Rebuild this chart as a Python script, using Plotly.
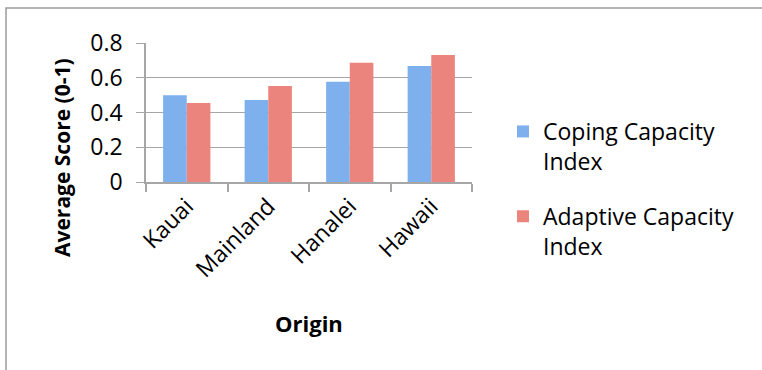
import plotly.graph_objects as go

categories = ["Kauai", "Mainland", "Hanalei", "Hawaii"]
coping = [0.50, 0.472, 0.577, 0.668]
adaptive = [0.455, 0.553, 0.687, 0.731]
series_names = ["Coping Capacity<br>Index", "Adaptive Capacity<br>Index"]
y_ticks = [0, 0.2, 0.4, 0.6, 0.8]
y_ticktext = ["0", "0.2", "0.4", "0.6", "0.8"]
x_title = "Origin"
y_title = "Average Score (0-1)"

W, H = 762, 370
ml, mr, mt, mb = 146, 290, 43, 188
pw, ph = W - ml - mr, H - mt - mb


def px_x(p):
    return (p - ml) / pw


def px_y(p):
    return (mt + ph - p) / ph


FONT = "Open Sans"
grid = "#a6a6a6"

fig = go.Figure()
fig.add_trace(go.Bar(x=categories, y=coping, name=series_names[0],
                     legendgroup="coping",
                     marker=dict(color="#7db0ec", line=dict(width=0))))
fig.add_trace(go.Bar(x=categories, y=adaptive, name=series_names[1],
                     legendgroup="adaptive",
                     marker=dict(color="#ec847e", line=dict(width=0))))

# outer chart border
fig.add_shape(type="rect", xref="paper", yref="paper",
              x0=px_x(6), x1=px_x(W + 10), y0=px_y(H + 10), y1=px_y(8),
              line=dict(color="#9a9a9a", width=1.5), layer="below")

fig.add_annotation(text="<b>%s</b>" % y_title, xref="paper", yref="paper",
                   x=px_x(62), y=px_y(158), textangle=-90, showarrow=False,
                   xanchor="center", yanchor="middle",
                   font=dict(size=21, family=FONT, color="black"))
fig.add_annotation(text="<b>%s</b>" % x_title, xref="paper", yref="paper",
                   x=px_x(309), y=px_y(323), showarrow=False,
                   xanchor="center", yanchor="middle",
                   font=dict(size=22, family=FONT, color="black"))

fig.update_layout(
    width=W, height=H,
    margin=dict(l=ml, r=mr, t=mt, b=mb, autoexpand=False),
    paper_bgcolor="white", plot_bgcolor="white",
    barmode="group", bargap=0.42, bargroupgap=0,
    font=dict(family=FONT, color="black"),
    showlegend=True,
    legend=dict(x=px_x(503), y=px_y(110),
                xanchor="left", yanchor="top", valign="top",
                font=dict(size=23, family=FONT), tracegroupgap=22,
                bgcolor="rgba(0,0,0,0)", itemwidth=30, maxheight=320),
    xaxis=dict(
        type="category", showgrid=False, showline=True, linecolor=grid,
        linewidth=1.5, ticks="outside", tickson="boundaries", ticklen=8,
        tickcolor=grid, tickwidth=1.5, tickangle=-45,
        tickfont=dict(size=23, family=FONT),
    ),
    yaxis=dict(
        range=[0, 0.8], tickvals=y_ticks, ticktext=y_ticktext,
        showgrid=True, gridcolor=grid, gridwidth=1.3,
        showline=True, linecolor=grid, linewidth=1.5, zeroline=False,
        ticks="outside", ticklen=8, tickcolor=grid, tickwidth=1.3,
        tickfont=dict(size=23, family=FONT), ticklabelstandoff=9,
    ),
)

fig.write_html("out.html")
